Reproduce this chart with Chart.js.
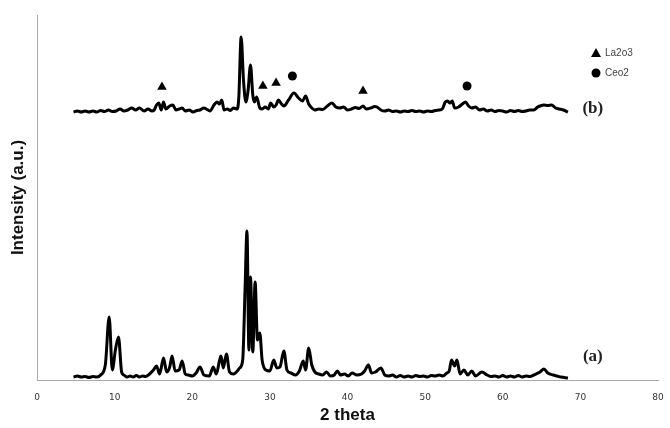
<!DOCTYPE html>
<html>
<head>
<meta charset="utf-8">
<script src="https://cdn.jsdelivr.net/npm/chart.js@4.4.0/dist/chart.umd.min.js"></script>
<style>
  html, body { margin: 0; padding: 0; background: #fff; }
</style>
</head>
<body>
<canvas id="c" width="670" height="428"></canvas>
<script>
// pattern (a): [2 theta, intensity]
const patternA = [
  [4.7, 3], [5.2, 4], [5.7, 3], [6.2, 3.5], [6.7, 2.5], [7.2, 3.5], [7.7, 3], [8.2, 5], [8.8, 15], [9.3, 63],
  [9.7, 10], [10.1, 30], [10.5, 43], [10.9, 8], [11.2, 5], [11.6, 3], [12.0, 4], [12.4, 3], [12.8, 4.5], [13.2, 3],
  [13.6, 4], [14.0, 3.5], [14.5, 6], [15.0, 10], [15.4, 14], [15.8, 6], [16.3, 22], [16.7, 8], [17.1, 13], [17.4, 24],
  [17.8, 9], [18.3, 10], [18.7, 19], [19.1, 6], [19.5, 5], [20.0, 4], [20.5, 7], [21.0, 13], [21.5, 5], [22.2, 4],
  [22.7, 13], [23.1, 6], [23.5, 19], [23.7, 24], [24.0, 12], [24.4, 26], [24.8, 8], [25.3, 6], [25.8, 9], [26.1, 12],
  [26.5, 20], [26.8, 90], [27.05, 149], [27.3, 30], [27.5, 103], [27.8, 28], [28.1, 98], [28.4, 40], [28.7, 47], [29.0, 20],
  [29.5, 10], [30.0, 9], [30.5, 20], [30.9, 12], [31.3, 13], [31.8, 29], [32.2, 10], [32.7, 7], [33.3, 5], [33.8, 9],
  [34.3, 19], [34.6, 10], [35.0, 32], [35.4, 15], [35.8, 8], [36.3, 6], [36.8, 5], [37.3, 8], [37.8, 4], [38.3, 5],
  [38.7, 9], [39.1, 5], [39.6, 6], [40.1, 4], [40.6, 7], [41.2, 5], [41.8, 6], [42.2, 9], [42.7, 15], [43.1, 7],
  [43.6, 8], [44.3, 12], [44.8, 5], [45.3, 4], [45.8, 5], [46.3, 3], [46.8, 4.5], [47.3, 3], [47.8, 4], [48.3, 3],
  [48.8, 4.5], [49.3, 3.5], [49.8, 4], [50.3, 3], [50.8, 4.5], [51.3, 4], [51.8, 5], [52.3, 4], [52.8, 7], [53.1, 9],
  [53.4, 20], [53.8, 14], [54.1, 20], [54.5, 6], [55.0, 10], [55.5, 5], [56.0, 9], [56.5, 4], [57.3, 8], [58.0, 5],
  [58.5, 3.5], [59.0, 4], [59.5, 3], [60.0, 4.5], [60.5, 3], [61.0, 4], [61.5, 3], [62.0, 4.5], [62.5, 3], [63.0, 4],
  [63.5, 3.5], [64.0, 5], [64.8, 8], [65.3, 11], [65.8, 7], [66.5, 5], [67.0, 4], [67.5, 3], [68.4, 2]
];

// pattern (b): [2 theta, intensity]
const patternB = [
  [4.7, 268], [5.2, 269], [5.7, 268], [6.2, 269], [6.7, 268], [7.2, 269], [7.7, 268], [8.2, 269.5], [8.7, 268.5], [9.2, 270],
  [9.7, 268.5], [10.2, 269], [10.7, 271], [11.2, 269], [11.7, 270], [12.2, 272], [12.7, 270], [13.2, 272], [13.8, 269], [14.3, 271],
  [14.8, 269], [15.1, 270], [15.4, 275], [15.7, 277], [16.0, 270], [16.3, 278], [16.6, 271], [17.1, 274], [17.5, 275], [17.9, 270],
  [18.3, 271], [18.7, 272], [19.1, 269], [19.6, 270], [20.1, 268], [20.6, 269.5], [21.0, 270], [21.5, 272], [21.8, 271], [22.3, 269],
  [22.8, 275], [23.2, 278], [23.5, 276], [23.8, 280], [24.1, 270], [24.5, 271], [24.9, 269.5], [25.3, 272], [25.8, 271], [26.0, 283],
  [26.3, 343], [26.6, 300], [26.9, 278], [27.2, 290], [27.5, 315], [27.8, 285], [28.0, 278], [28.3, 283], [28.7, 272], [29.0, 271],
  [29.4, 273], [29.8, 271], [30.1, 277], [30.5, 273], [30.8, 275], [31.1, 280], [31.5, 276], [31.8, 274], [32.4, 280], [33.1, 287],
  [33.7, 282], [34.2, 279], [34.6, 284], [35.0, 276], [35.4, 272], [35.8, 270], [36.3, 271], [36.8, 270.5], [37.4, 274], [38.0, 277],
  [38.5, 273], [39.0, 272], [39.5, 273], [40.0, 270], [40.5, 271], [41.0, 272.5], [41.5, 271.5], [42.0, 274], [42.4, 271], [43.0, 272],
  [43.5, 273.5], [43.8, 273], [44.3, 270], [44.8, 269], [45.3, 270], [45.8, 268.5], [46.3, 269], [46.8, 268], [47.3, 269], [47.8, 268.5],
  [48.3, 269.5], [48.8, 268.5], [49.3, 269], [49.8, 268], [50.3, 269], [50.8, 268.5], [51.3, 269.5], [51.8, 270], [52.2, 271], [52.6, 278],
  [52.9, 279], [53.2, 277], [53.5, 279], [53.8, 272], [54.3, 273], [54.8, 276], [55.2, 278], [55.6, 274], [56.0, 272], [56.5, 273],
  [57.0, 270], [57.5, 271], [58.0, 269], [58.5, 270], [59.0, 268.5], [59.5, 269.5], [60.0, 269], [60.5, 268], [61.0, 269.5], [61.5, 268.5],
  [62.0, 269.5], [62.5, 268.5], [63.0, 269], [63.5, 270], [64.0, 270], [64.5, 273], [64.8, 274], [65.3, 275], [65.8, 274.5], [66.3, 275],
  [66.8, 272], [67.3, 271], [67.8, 270], [68.4, 268]
];

// phase markers above pattern (b)
const la2o3Marks = [[16.1, 293], [29.1, 294], [30.8, 297], [42.0, 289]];
const ceo2Marks = [[32.9, 304], [55.4, 294]];

const xTicks = [0, 10, 20, 30, 40, 50, 60, 70, 80];
const legendLabels = ['La2o3', 'Ceo2'];
const traceLabels = ['(a)', '(b)'];

function pts(arr) {
  return arr.map(p => ({ x: p[0], y: p[1] }));
}

const annotations = {
  id: 'annotations',
  afterDraw(chart) {
    const { ctx, chartArea, scales: { x, y } } = chart;
    ctx.save();
    // trace labels
    ctx.fillStyle = '#222';
    ctx.font = 'bold 17px "Liberation Serif", "Times New Roman", serif';
    ctx.textAlign = 'center';
    ctx.textBaseline = 'middle';
    ctx.fillText(traceLabels[0], x.getPixelForValue(71.6), y.getPixelForValue(23));
    ctx.fillText(traceLabels[1], x.getPixelForValue(71.6), y.getPixelForValue(271));
    // legend
    const lx = chartArea.right - 62;
    const ly = chartArea.top + 38;
    ctx.fillStyle = '#000';
    ctx.beginPath();
    ctx.moveTo(lx, ly - 5);
    ctx.lineTo(lx + 5, ly + 4);
    ctx.lineTo(lx - 5, ly + 4);
    ctx.closePath();
    ctx.fill();
    ctx.beginPath();
    ctx.arc(lx, ly + 20, 4.5, 0, Math.PI * 2);
    ctx.fill();
    ctx.fillStyle = '#444';
    ctx.font = '10px "Liberation Sans", Arial, sans-serif';
    ctx.textAlign = 'left';
    ctx.fillText(legendLabels[0], lx + 9, ly);
    ctx.fillText(legendLabels[1], lx + 9, ly + 20);
    ctx.restore();
  }
};

new Chart(document.getElementById('c'), {
  type: 'line',
  data: {
    datasets: [
      {
        label: '(a)',
        data: pts(patternA),
        borderColor: '#000',
        borderWidth: 3,
        pointRadius: 0,
        cubicInterpolationMode: 'monotone'
      },
      {
        label: '(b)',
        data: pts(patternB),
        borderColor: '#000',
        borderWidth: 3,
        pointRadius: 0,
        cubicInterpolationMode: 'monotone'
      },
      {
        label: 'La2o3',
        data: pts(la2o3Marks),
        showLine: false,
        pointStyle: 'triangle',
        pointRadius: 5.5,
        backgroundColor: '#000',
        borderColor: '#000',
        borderWidth: 0
      },
      {
        label: 'Ceo2',
        data: pts(ceo2Marks),
        showLine: false,
        pointStyle: 'circle',
        pointRadius: 4.5,
        backgroundColor: '#000',
        borderColor: '#000',
        borderWidth: 0
      }
    ]
  },
  options: {
    responsive: false,
    animation: false,
    devicePixelRatio: 1,
    layout: { padding: { top: 15, right: 12, left: 0, bottom: 0 } },
    scales: {
      x: {
        type: 'linear',
        min: 0,
        max: 80,
        afterFit(scale) {
          scale.height = 48;
          scale.paddingLeft = 0;
          scale.paddingRight = 0;
        },
        afterBuildTicks(scale) { scale.ticks = xTicks.map(v => ({ value: v })); },
        grid: { display: false, drawTicks: false },
        border: { display: true, color: '#aaa', width: 1 },
        ticks: {
          padding: 12,
          color: '#333',
          font: { family: '"DejaVu Sans", Verdana, sans-serif', size: 9 }
        },
        title: {
          display: true,
          text: '2 theta',
          color: '#111',
          padding: { top: 0, bottom: 2 },
          font: { family: '"Liberation Sans", Arial, sans-serif', size: 17, weight: 'bold' }
        }
      },
      y: {
        min: 0,
        max: 365,
        afterFit(scale) { scale.width = 37; },
        grid: { display: false, drawTicks: false },
        border: { display: true, color: '#aaa', width: 1 },
        ticks: { display: false },
        title: {
          display: true,
          text: 'Intensity (a.u.)',
          color: '#111',
          padding: { top: 8, bottom: 0 },
          font: { family: '"Liberation Sans", Arial, sans-serif', size: 17, weight: 'bold' }
        }
      }
    },
    plugins: {
      legend: { display: false },
      tooltip: { enabled: false }
    }
  },
  plugins: [annotations]
});
</script>
</body>
</html>
